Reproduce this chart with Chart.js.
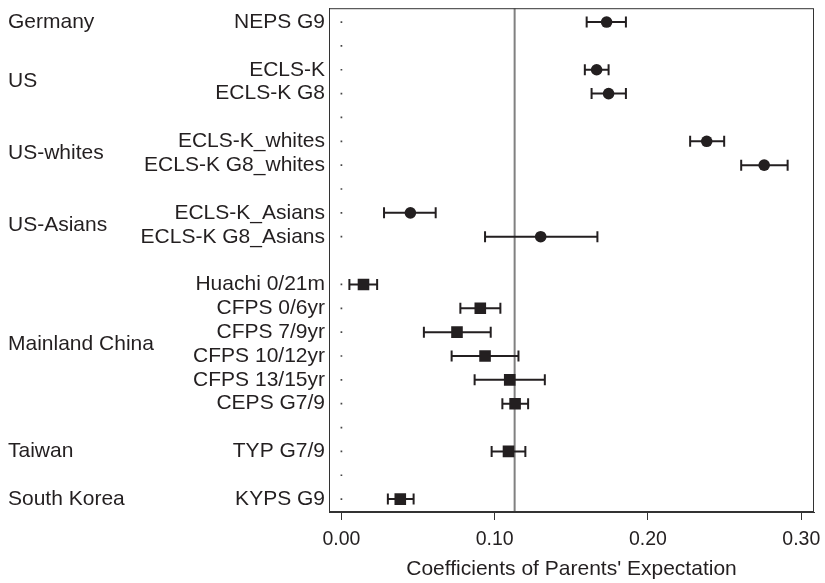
<!DOCTYPE html>
<html>
<head>
<meta charset="utf-8">
<script src="https://cdn.jsdelivr.net/npm/chart.js@4"></script>
<style>
  html, body { margin: 0; padding: 0; background: #fff; }
  #wrap { width: 825px; height: 583px; }
</style>
</head>
<body>
<div id="wrap"><canvas id="forest"></canvas></div>
<script>
// one entry per row, top to bottom ('' = spacer row)
const studies = ['NEPS G9', '', 'ECLS-K', 'ECLS-K G8', '', 'ECLS-K_whites', 'ECLS-K G8_whites', '',
    'ECLS-K_Asians', 'ECLS-K G8_Asians', '', 'Huachi 0/21m', 'CFPS 0/6yr', 'CFPS 7/9yr',
    'CFPS 10/12yr', 'CFPS 13/15yr', 'CEPS G7/9', '', 'TYP G7/9', '', 'KYPS G9'];
const coef  = [0.173, null, 0.1665, 0.1743, null, 0.2383, 0.2758, null, 0.045, 0.130, null,
    0.0144, 0.0906, 0.0754, 0.0937, 0.1098, 0.1133, null, 0.109, null, 0.0384];
const lower = [0.160, null, 0.1588, 0.1632, null, 0.2275, 0.2608, null, 0.0278, 0.0937, null,
    0.0052, 0.0776, 0.0538, 0.0719, 0.0869, 0.105, null, 0.098, null, 0.0303];
const upper = [0.1856, null, 0.1743, 0.1856, null, 0.2497, 0.2911, null, 0.0615, 0.167, null,
    0.0233, 0.1037, 0.0974, 0.1155, 0.1327, 0.1218, null, 0.120, null, 0.0471];
// marker shape per row: circle for the western samples, square for east Asia
const marker = ['circle', null, 'circle', 'circle', null, 'circle', 'circle', null, 'circle', 'circle', null,
    'rect', 'rect', 'rect', 'rect', 'rect', 'rect', null, 'rect', null, 'rect'];
// rows that get the small dot on the zero line
const zeroRows = [0, 1, 2, 3, 4, 5, 6, 7, 8, 9, 11, 12, 13, 14, 15, 16, 17, 18, 19, 20];

const regions = ['Germany', 'US', 'US-whites', 'US-Asians', 'Mainland China', 'Taiwan', 'South Korea'];
const regionRows = [0, 2.5, 5.5, 8.5, 13.5, 18, 20];

const xTicks = [0, 0.1, 0.2, 0.3];
const meanLine = 0.113;

const Y_MIN = -0.58;
const Y_MAX = 20.54;
const INK = '#231f20';
const FAMILY = '"Liberation Sans", Arial, Helvetica, sans-serif';
const LABEL_FONT = { family: FAMILY, size: 21 };
const TICK_FONT = { family: FAMILY, size: 19.5 };

const circlePts = [];
const squarePts = [];
const whiskerPts = [];
const capPts = [];
for (let i = 0; i < studies.length; i++)
{
    if (coef[i] === null) continue;
    const p = { x: coef[i], y: i };
    if (marker[i] === 'circle') circlePts.push(p); else squarePts.push(p);
    whiskerPts.push({ x: lower[i], y: i }, { x: upper[i], y: i }, { x: null, y: null });
    capPts.push({ x: lower[i], y: i }, { x: upper[i], y: i });
}

// box round the plot area + the country group labels at the far left
const framePlugin = {
    id: 'frame',
    afterDraw(chart) {
        const a = chart.chartArea;
        const ctx = chart.ctx;
        const yScale = chart.scales.y;
        ctx.save();
        ctx.strokeStyle = '#333';
        ctx.lineWidth = 1;
        ctx.strokeRect(a.left + 0.5, a.top + 0.5, a.right - a.left - 1, a.bottom - a.top - 1);

        ctx.fillStyle = INK;
        ctx.font = `${LABEL_FONT.size}px ${FAMILY}`;
        ctx.textAlign = 'left';
        ctx.textBaseline = 'middle';
        regions.forEach((name, k) => {
            ctx.fillText(name, 8, yScale.getPixelForValue(regionRows[k]));
        });
        ctx.restore();
    }
};

new Chart(document.getElementById('forest'), {
    type: 'scatter',
    data: {
        datasets: [
            {
                label: 'circle',
                data: circlePts,
                pointStyle: 'circle',
                pointRadius: 5.8,
                backgroundColor: INK,
                borderColor: INK,
                borderWidth: 0,
                order: 0
            },
            {
                label: 'square',
                data: squarePts,
                pointStyle: 'rect',
                pointRadius: 8.2,
                backgroundColor: INK,
                borderColor: INK,
                borderWidth: 0,
                order: 0
            },
            {
                label: 'caps',
                data: capPts,
                pointStyle: 'line',
                rotation: 90,
                pointRadius: 5.5,
                borderColor: INK,
                borderWidth: 2,
                order: 1
            },
            {
                label: 'ci',
                data: whiskerPts,
                showLine: true,
                spanGaps: false,
                pointRadius: 0,
                borderColor: INK,
                borderWidth: 2,
                order: 1
            },
            {
                label: 'zero',
                data: zeroRows.map(r => ({ x: 0, y: r })),
                pointStyle: 'rect',
                pointRadius: 1.2,
                backgroundColor: '#444',
                borderWidth: 0,
                order: 3
            },
            {
                label: 'mean',
                data: [{ x: meanLine, y: Y_MIN }, { x: meanLine, y: Y_MAX }],
                showLine: true,
                pointRadius: 0,
                borderColor: '#808080',
                borderWidth: 2,
                order: 2
            }
        ]
    },
    options: {
        responsive: true,
        maintainAspectRatio: false,
        animation: false,
        layout: { padding: { left: 8, right: 11, top: 5, bottom: 0 } },
        plugins: {
            legend: { display: false },
            tooltip: { enabled: false }
        },
        scales: {
            x: {
                type: 'linear',
                min: -0.0081,
                max: 0.3083,
                afterBuildTicks: s => { s.ticks = xTicks.map(v => ({ value: v })); },
                afterFit: s => { s.height = 71; s.paddingLeft = 0; s.paddingRight = 0; },
                ticks: {
                    color: INK,
                    font: TICK_FONT,
                    padding: 8,
                    maxRotation: 0,
                    callback: v => v.toFixed(2)
                },
                grid: { drawOnChartArea: false, drawTicks: true, tickLength: 8, color: '#333' },
                border: { display: true, color: '#333', width: 1 },
                title: {
                    display: true,
                    text: "Coefficients of Parents' Expectation",
                    color: INK,
                    font: LABEL_FONT,
                    padding: { top: 4, bottom: 1 }
                }
            },
            y: {
                type: 'linear',
                position: 'left',
                reverse: true,
                min: Y_MIN,
                max: Y_MAX,
                afterBuildTicks: s => { s.ticks = studies.map((_, i) => ({ value: i })); },
                afterFit: s => { s.width = 321; s.paddingTop = 0; s.paddingBottom = 0; },
                ticks: {
                    color: INK,
                    font: LABEL_FONT,
                    padding: 4,
                    autoSkip: false,
                    callback: v => studies[v]
                },
                grid: { display: false, drawTicks: false },
                border: { display: true, color: '#333', width: 1 }
            }
        }
    },
    plugins: [framePlugin]
});
</script>
</body>
</html>
